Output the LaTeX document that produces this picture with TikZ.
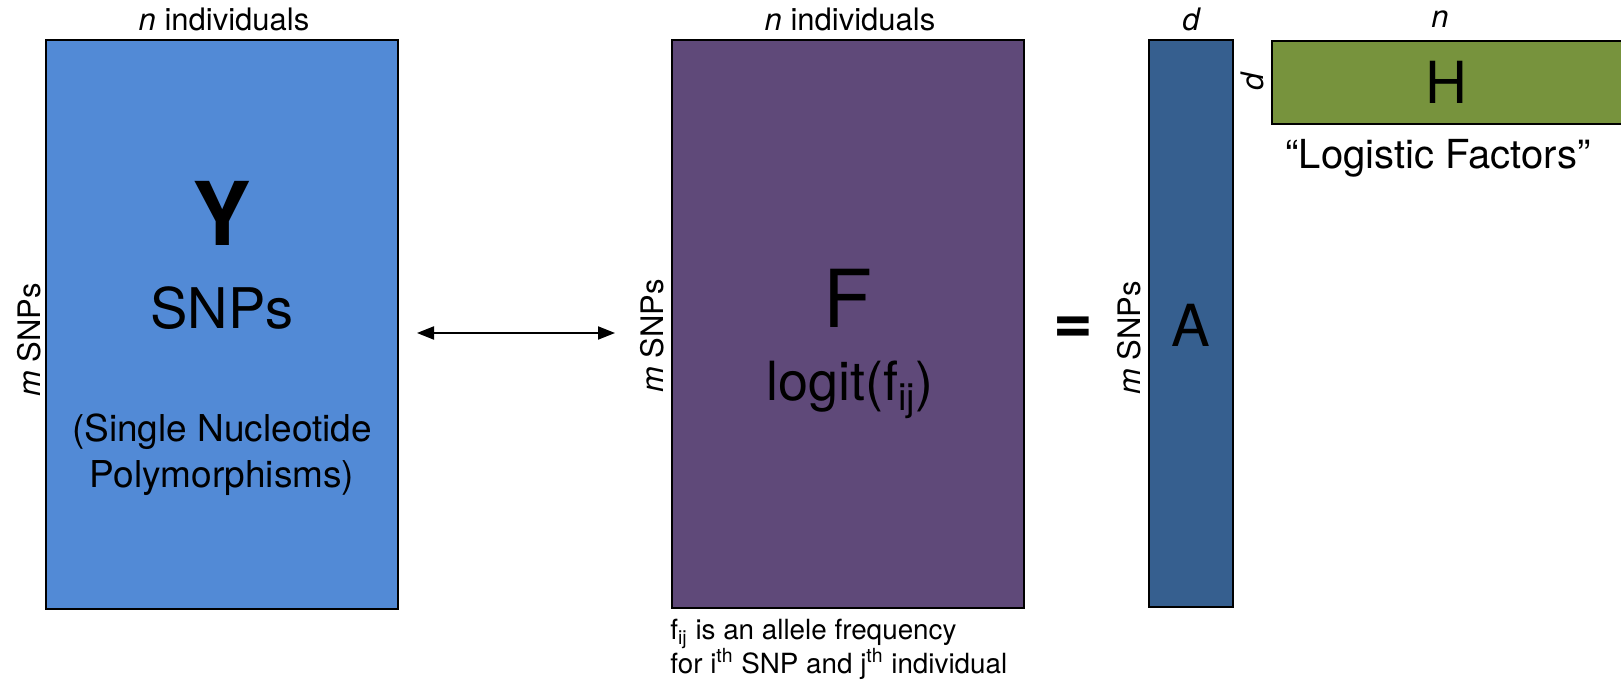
\documentclass[tikz,border=0pt]{standalone}
\usepackage{fontspec}
\setmainfont{TeX Gyre Heros}
\usepackage{tikz}
\usetikzlibrary{arrows.meta, positioning, calc}
\definecolor{ycol}{HTML}{528AD6}
\definecolor{fcol}{HTML}{5F4979}
\definecolor{acol}{HTML}{365F8F}
\definecolor{hcol}{HTML}{77933D}
\newcommand{\fs}[1]{\fontsize{#1}{1.2\dimexpr#1pt\relax}\selectfont}
\newcommand{\subij}{\textsubscript{ij}}

\begin{document}
\begin{tikzpicture}[x=0.5pt, y=-0.5pt,
  mat/.style={draw=black, line width=1pt, inner sep=0pt},
  dimlabel/.style={font=\fs{15.5}, inner sep=0pt},
  sidelabel/.style={font=\fs{15.5}, inner sep=0pt, rotate=90}]
\useasboundingbox (0,0) rectangle (1621,683);

% the four matrices
\node[mat, fill=ycol, minimum width=176pt, minimum height=284.5pt] (Y) at (222,324.5) {};
\node[mat, fill=fcol, minimum width=176pt, minimum height=284pt] (F) at (848,324) {};
\node[mat, fill=acol, minimum width=42pt, minimum height=283.5pt] (A) at (1191,323.5) {};
\node[mat, fill=hcol, minimum width=190pt, minimum height=41.5pt, anchor=north west] (H) at (1271,40) {};

% Y
\node[font=\fs{44}\bfseries] (ylet) at (222,213) {Y};
\node[font=\fs{28}] (ysnp) at (222,308) {SNPs};
\node[font=\fs{18.5}, align=center] (ylong) at (222,455) {(Single Nucleotide\\[1pt]Polymorphisms)};

% F
\node[font=\fs{40}] (flet) at (848,298) {F};
\node[font=\fs{27}] (flogit) at (850,390) {logit(f\subij)};

% A and H
\node[font=\fs{29}] (alet) at (1191,325) {A};
\node[font=\fs{29}] (hlet) at (1446,82) {H};
\node[font=\fs{20}] (hname) at (1438,158) {``Logistic Factors''};

% sizes
\node[dimlabel] (yn) at (224,19) {\itshape n\upshape\ individuals};
\node[dimlabel] (fn) at (850,19) {\itshape n\upshape\ individuals};
\node[dimlabel] (ad) at (1191,19) {\itshape d};
\node[dimlabel] (hn) at (1440,19) {\itshape n};
\node[sidelabel] (ym) at (29,340) {\itshape m\upshape\ SNPs};
\node[sidelabel] (fm) at (652,336) {\itshape m\upshape\ SNPs};
\node[sidelabel] (am) at (1129,338) {\itshape m\upshape\ SNPs};
\node[sidelabel] (hd) at (1252,82) {\itshape d};

\node[font=\fs{34}\bfseries] (eq) at (1073,330) {=};

\node[font=\fs{13.9}, align=left, anchor=north west, inner sep=0pt] (fnote) at (670,619)
  {f\subij\ is an allele frequency\\[0pt]for i\textsuperscript{th} SNP and j\textsuperscript{th} individual};

% link between Y and F
\coordinate (ya) at (417,333);
\coordinate (fa) at (615,333);
\draw[line width=1pt, {Triangle[length=8.5pt,width=6.5pt]}-{Triangle[length=8.5pt,width=6.5pt]}] (ya) -- (fa);
\end{tikzpicture}
\end{document}
